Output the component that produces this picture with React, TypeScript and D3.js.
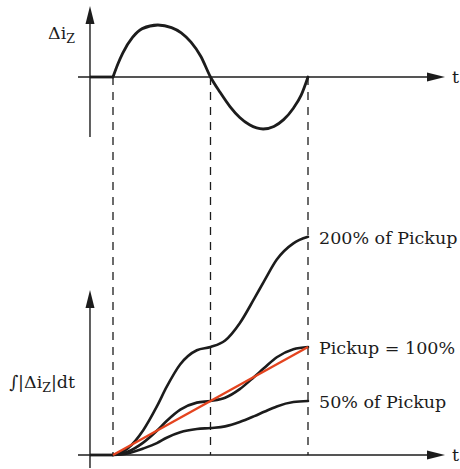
import React from "react";
import * as d3 from "d3";

// Disturbance current Δi_Z over one cycle (positive then negative half-wave)
const waveT = [1, 1.05, 1.1, 1.2, 1.3, 1.46, 1.6, 1.7, 1.8, 1.9, 2, 2.1, 2.2, 2.3, 2.4, 2.54, 2.65, 2.75, 2.85, 2.93, 3];
const waveDi = [0, 0.25, 0.46, 0.76, 0.93, 1.0, 0.95, 0.85, 0.67, 0.4, 0, -0.3, -0.57, -0.78, -0.92, -1.0, -0.95, -0.82, -0.6, -0.35, 0];

// Integral of |Δi_Z| for three disturbance magnitudes
const intT = [1, 1.15, 1.31, 1.45, 1.55, 1.69, 1.86, 2, 2.15, 2.3, 2.45, 2.55, 2.68, 2.85, 3];
const pickup200 = [0, 0.06, 0.23, 0.45, 0.63, 0.84, 0.97, 1.0, 1.06, 1.22, 1.45, 1.61, 1.81, 1.96, 2.02];
const pickup100 = [0, 0.03, 0.115, 0.225, 0.315, 0.42, 0.485, 0.5, 0.53, 0.61, 0.725, 0.805, 0.905, 0.98, 1.0];
const pickup50 = [0, 0.015, 0.06, 0.11, 0.16, 0.21, 0.24, 0.25, 0.265, 0.305, 0.36, 0.4, 0.45, 0.49, 0.5];

// Pickup threshold ramp
const rampT = [1, 3];
const rampV = [0, 1];

// Phase boundaries (dashed markers)
const markerT = [1, 2, 3];
const tStart = 0.764;

const curveLabels = ["200% of Pickup", "Pickup = 100%", "50% of Pickup"];

const FONT = "'DejaVu Serif', serif";
const INK = "#1c1c1c";
const RED = "#e4441f";

export default function App() {
  const x = d3.scaleLinear().domain([1, 3]).range([113, 308]);
  const yTop = d3.scaleLinear().domain([-1, 1]).range([129, 25]);
  const yBot = d3.scaleLinear().domain([0, 1]).range([455, 347]);

  const axisX0 = x(tStart);
  const axisLeft = 78;
  const axisRight = 445;
  const top0 = yTop(0);
  const bot0 = yBot(0);

  const waveLine = d3
    .line<number>()
    .x((_, i) => x(waveT[i]))
    .y((d) => yTop(d))
    .curve(d3.curveMonotoneX);

  const intLine = d3
    .line<number>()
    .x((_, i) => x(intT[i]))
    .y((d) => yBot(d))
    .curve(d3.curveMonotoneX);

  const rampLine = d3
    .line<number>()
    .x((_, i) => x(rampT[i]))
    .y((d) => yBot(d));

  const series = [pickup200, pickup100, pickup50];

  const arrowUp = (cx: number, tipY: number) =>
    `M${cx},${tipY} L${cx - 4.5},${tipY + 18} L${cx + 4.5},${tipY + 18} Z`;
  const arrowRight = (tipX: number, cy: number) =>
    `M${tipX},${cy} L${tipX - 18},${cy - 4.5} L${tipX - 18},${cy + 4.5} Z`;

  return (
    <svg width={460} height={469} style={{ position: "absolute", left: 0, top: 0, background: "#fff" }}>
      {/* dashed phase markers */}
      {markerT.map((t) => (
        <line
          key={t}
          x1={x(t)}
          x2={x(t)}
          y1={top0}
          y2={bot0}
          stroke={INK}
          strokeWidth={1.3}
          strokeDasharray="8,7"
        />
      ))}

      {/* upper axes */}
      <line x1={axisX0} x2={axisX0} y1={137} y2={20} stroke={INK} strokeWidth={1.4} />
      <path d={arrowUp(axisX0, 6)} fill={INK} />
      <line x1={axisLeft} x2={axisRight - 14} y1={top0} y2={top0} stroke={INK} strokeWidth={1.4} />
      <path d={arrowRight(axisRight, top0)} fill={INK} />

      {/* lower axes */}
      <line x1={axisX0} x2={axisX0} y1={468} y2={304} stroke={INK} strokeWidth={1.4} />
      <path d={arrowUp(axisX0, 290)} fill={INK} />
      <line x1={axisLeft} x2={axisRight - 14} y1={bot0} y2={bot0} stroke={INK} strokeWidth={1.4} />
      <path d={arrowRight(axisRight, bot0)} fill={INK} />

      {/* Δi_Z wave */}
      <line x1={axisX0} x2={x(1)} y1={top0} y2={top0} stroke={INK} strokeWidth={2.8} />
      <path d={waveLine(waveDi) ?? ""} fill="none" stroke={INK} strokeWidth={2.8} strokeLinecap="round" />

      {/* integrals */}
      <line x1={axisX0} x2={x(1)} y1={bot0} y2={bot0} stroke={INK} strokeWidth={2.8} />
      {series.map((s, i) => (
        <path key={i} d={intLine(s) ?? ""} fill="none" stroke={INK} strokeWidth={2.6} strokeLinecap="round" />
      ))}
      <path d={rampLine(rampV) ?? ""} fill="none" stroke={RED} strokeWidth={2.4} />

      {/* curve labels */}
      {series.map((s, i) => (
        <text
          key={i}
          x={x(3) + 11}
          y={yBot(s[s.length - 1]) + 7}
          fontFamily={FONT}
          fontSize={17.5}
          fill={INK}
        >
          {curveLabels[i]}
        </text>
      ))}

      {/* axis labels */}
      <text x={452} y={top0 + 6} fontFamily={FONT} fontSize={17.5} fill={INK}>t</text>
      <text x={452} y={bot0 + 6} fontFamily={FONT} fontSize={17.5} fill={INK}>t</text>
      <text x={48} y={39} fontFamily={FONT} fontSize={17.5} fill={INK}>
        Δi<tspan fontSize={12.5} dy={4}>Z</tspan>
      </text>
      <text x={9} y={388} fontFamily={FONT} fontSize={17.5} fill={INK}>
        ∫|Δi<tspan fontSize={12.5} dy={4}>Z</tspan>
        <tspan dy={-4}>|dt</tspan>
      </text>
    </svg>
  );
}
